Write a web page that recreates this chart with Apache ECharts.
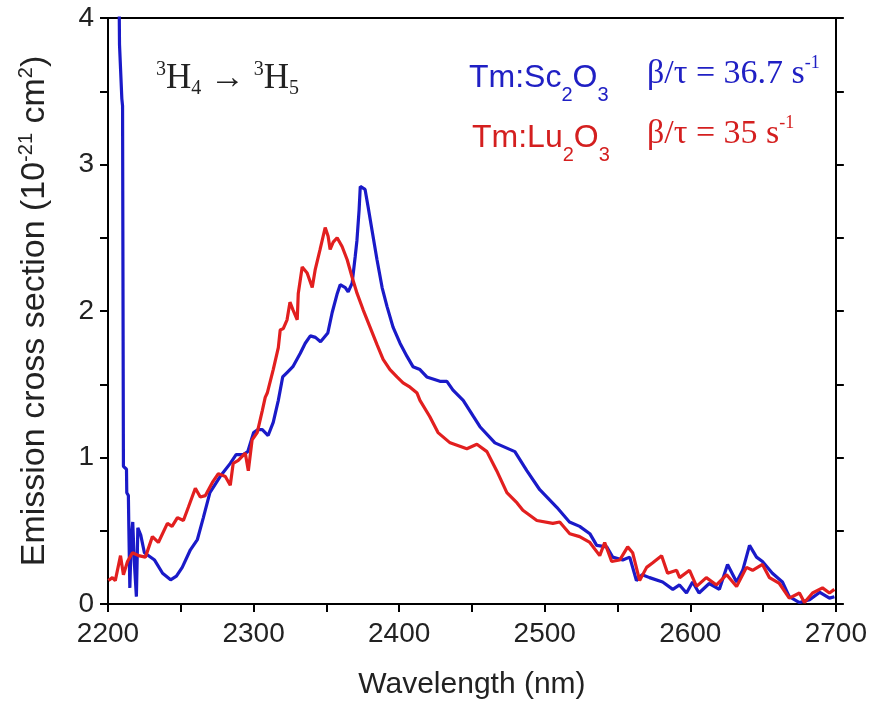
<!DOCTYPE html>
<html>
<head>
<meta charset="utf-8">
<script src="https://cdn.jsdelivr.net/npm/echarts@6/dist/echarts.min.js"></script>
<style>html,body{margin:0;padding:0;background:#fff;}#chart{width:870px;height:706px;}</style>
</head>
<body>
<div id="chart"></div>
<script>
// Tm:Sc2O3 (blue)
const sc2o3Wavelength = [2207.5,2207.9,2209.2,2209.5,2210.0,2210.6,2212.7,2212.9,2214.0,2214.3,2215.0,2216.0,2217.0,2218.0,2219.5,2220.5,2222.5,2225,2232,2237.5,2243,2247,2251,2256.6,2261.4,2265.5,2270,2277,2284,2288,2293,2296,2300,2303,2306,2310,2313.5,2317,2320,2323,2327,2332,2335.5,2339,2342.5,2346,2351,2354,2357.5,2359.5,2363,2365,2367.7,2369.8,2371,2372.5,2373.3,2374.6,2376.6,2378.7,2381.4,2384.8,2388.3,2391.7,2395.8,2400.6,2405.4,2409.5,2414.3,2419,2428,2432.8,2437,2444,2451,2455.5,2465.8,2479.5,2487.7,2496.6,2508.3,2517,2524,2531,2535.7,2542.6,2546.7,2553.6,2558.4,2563,2567,2572,2581,2588,2592.6,2597.4,2601.6,2606,2613,2620,2625.6,2631.8,2636,2640.7,2645.5,2649.6,2656.4,2663.3,2668,2675,2682,2689,2695.6,2699];
const sc2o3Sigma = [4.3,3.82,3.82,3.45,3.40,0.94,0.92,0.76,0.74,0.53,0.11,0.45,0.56,0.30,0.05,0.52,0.47,0.35,0.30,0.21,0.165,0.19,0.25,0.37,0.44,0.59,0.76,0.87,0.96,1.02,1.02,1.04,1.17,1.19,1.19,1.15,1.24,1.39,1.55,1.58,1.62,1.71,1.78,1.83,1.82,1.79,1.85,1.99,2.12,2.18,2.16,2.13,2.19,2.37,2.48,2.69,2.85,2.86,2.83,2.71,2.55,2.35,2.16,2.03,1.89,1.78,1.69,1.62,1.60,1.55,1.52,1.52,1.46,1.39,1.28,1.21,1.10,1.04,0.91,0.78,0.66,0.56,0.53,0.48,0.40,0.39,0.32,0.30,0.32,0.16,0.20,0.18,0.15,0.10,0.13,0.075,0.15,0.075,0.14,0.10,0.27,0.15,0.23,0.40,0.32,0.29,0.21,0.15,0.05,0.01,0.03,0.08,0.04,0.05];

// Tm:Lu2O3 (red)
const lu2o3Wavelength = [2200.3,2203,2205,2208.6,2210.6,2213.4,2216.8,2221,2225.7,2230.5,2234.6,2240.8,2244,2247.7,2251.8,2255.2,2260,2263.4,2266.9,2271.7,2275.8,2280.6,2284,2286,2289.5,2294.3,2296.4,2299,2302.5,2306,2308,2309.4,2313.5,2317,2318.3,2320.4,2323,2325,2327,2330,2330.7,2333.4,2336.8,2340.3,2342.3,2345.7,2349.2,2351.2,2352.6,2354.7,2357.4,2360.8,2364.3,2367.7,2371.1,2375.2,2380,2384.8,2389,2393.7,2398.5,2402.7,2407.5,2412.3,2414.3,2421,2426.7,2435,2446.5,2453.4,2460.3,2467,2474,2481,2485,2494.6,2505.6,2510.3,2517.2,2524,2531,2537.8,2541.2,2546,2551.5,2557,2560.4,2565.2,2570,2574,2580.3,2584.4,2590.6,2592.7,2599.5,2604.3,2611,2618,2625,2631.8,2638.6,2642.8,2649.6,2654.4,2661.2,2668,2675,2678.4,2684,2690.8,2695.6,2699];
const lu2o3Sigma = [0.16,0.18,0.16,0.33,0.20,0.29,0.35,0.33,0.32,0.46,0.42,0.55,0.53,0.59,0.57,0.66,0.79,0.73,0.74,0.83,0.89,0.87,0.81,0.96,0.98,1.03,0.91,1.12,1.17,1.32,1.41,1.44,1.60,1.75,1.87,1.88,1.94,2.06,2.01,1.94,2.12,2.30,2.26,2.16,2.28,2.42,2.57,2.51,2.42,2.47,2.50,2.44,2.35,2.23,2.12,2.01,1.89,1.77,1.67,1.60,1.55,1.51,1.48,1.44,1.39,1.28,1.17,1.10,1.06,1.09,1.04,0.91,0.76,0.69,0.64,0.57,0.55,0.56,0.48,0.46,0.42,0.33,0.42,0.29,0.30,0.39,0.35,0.16,0.25,0.28,0.33,0.21,0.23,0.18,0.23,0.12,0.18,0.13,0.20,0.12,0.25,0.23,0.27,0.18,0.14,0.04,0.075,0.01,0.075,0.11,0.075,0.10];

const xTicks = [2200, 2300, 2400, 2500, 2600, 2700];
const yTicks = [0, 1, 2, 3, 4];

const blue = '#1a1ac8';
const red = '#e21f1f';
const blueText = '#2020c4';
const redText = '#d41f1f';

function pairs(xs, ys) { return xs.map((x, i) => [x, ys[i]]); }

const chart = echarts.init(document.getElementById('chart'), null, {renderer: 'canvas'});
const sans = 'Liberation Sans, Arial, sans-serif';
const serif = 'Liberation Serif, Times New Roman, serif';

const option = {
  backgroundColor: '#fff',
  animation: false,
  grid: {left: 108, right: 33, top: 18, bottom: 102, containLabel: false},
  xAxis: [{
    type: 'value', min: 2200, max: 2700, interval: 50, position: 'bottom',
    name: 'Wavelength (nm)', nameLocation: 'middle', nameGap: 66,
    nameTextStyle: {fontFamily: sans, fontSize: 30, color: '#222'},
    axisLine: {show: true, lineStyle: {color: '#000', width: 2}},
    axisTick: {show: true, inside: false, length: 8, lineStyle: {color: '#000', width: 2}},
    axisLabel: {margin: 16, fontFamily: sans, fontSize: 28, color: '#222',
      formatter: v => xTicks.indexOf(v) >= 0 ? String(v) : ''},
    splitLine: {show: false}
  }, {
    type: 'value', min: 2200, max: 2700, position: 'top',
    axisLine: {show: true, onZero: false, lineStyle: {color: '#000', width: 2}},
    axisTick: {show: false}, axisLabel: {show: false}, splitLine: {show: false}
  }],
  yAxis: [{
    type: 'value', min: 0, max: 4, interval: 0.5, position: 'left',
    name: '{a|Emission cross section (10}{sup|-21}{a| cm}{sup|2}{a|)}',
    nameLocation: 'middle', nameGap: 54, nameRotate: 90,
    nameTextStyle: {fontFamily: sans, fontSize: 34, color: '#222',
      rich: {
        a: {fontFamily: sans, fontSize: 34, color: '#222'},
        sup: {fontFamily: sans, fontSize: 20, color: '#222', padding: [0, 0, 18, 0]}
      }},
    axisLine: {show: true, onZero: false, lineStyle: {color: '#000', width: 2}},
    axisTick: {show: true, inside: false, length: 8, lineStyle: {color: '#000', width: 2}},
    axisLabel: {margin: 14, fontFamily: sans, fontSize: 28, color: '#222',
      formatter: v => yTicks.indexOf(v) >= 0 ? String(v) : ''},
    splitLine: {show: false}
  }, {
    type: 'value', min: 0, max: 4, interval: 0.5, position: 'right',
    axisLine: {show: true, onZero: false, lineStyle: {color: '#000', width: 2}},
    axisTick: {show: true, inside: false, length: 8, lineStyle: {color: '#000', width: 2}},
    axisLabel: {show: false}, splitLine: {show: false}
  }],
  series: [{
    name: 'Tm:Sc2O3', type: 'line', data: pairs(sc2o3Wavelength, sc2o3Sigma),
    showSymbol: false, symbol: 'none', clip: true,
    lineStyle: {color: blue, width: 3.2}, z: 2
  }, {
    name: 'Tm:Lu2O3', type: 'line', data: pairs(lu2o3Wavelength, lu2o3Sigma),
    showSymbol: false, symbol: 'none', clip: true,
    lineStyle: {color: red, width: 3.2}, z: 3
  }],
  graphic: [{
    type: 'text', left: 156, top: 60,
    style: {
      text: '{sup|3}{m|H}{sub|4}{m| → }{sup|3}{m|H}{sub|5}',
      fill: '#222',
      rich: {
        m: {fontFamily: serif, fontSize: 35, fill: '#222'},
        sup: {fontFamily: serif, fontSize: 20, fill: '#222', padding: [0, 0, 18, 0]},
        sub: {fontFamily: serif, fontSize: 20, fill: '#222', padding: [20, 0, 0, 0]}
      }
    }
  }, {
    type: 'text', left: 469, top: 62,
    style: {
      text: '{m|Tm:Sc}{sub|2}{m|O}{sub|3}',
      fill: blueText,
      rich: {
        m: {fontFamily: sans, fontSize: 32, fill: blueText},
        sub: {fontFamily: sans, fontSize: 20, fill: blueText, padding: [34, 0, 0, 0]}
      }
    }
  }, {
    type: 'text', left: 647, top: 54,
    style: {
      text: '{m|β/τ = 36.7 s}{sup|-1}',
      fill: blueText,
      rich: {
        m: {fontFamily: serif, fontSize: 34, fill: blueText},
        sup: {fontFamily: serif, fontSize: 18, fill: blueText, padding: [0, 0, 22, 0]}
      }
    }
  }, {
    type: 'text', left: 472, top: 122,
    style: {
      text: '{m|Tm:Lu}{sub|2}{m|O}{sub|3}',
      fill: redText,
      rich: {
        m: {fontFamily: sans, fontSize: 32, fill: redText},
        sub: {fontFamily: sans, fontSize: 20, fill: redText, padding: [34, 0, 0, 0]}
      }
    }
  }, {
    type: 'text', left: 647, top: 114,
    style: {
      text: '{m|β/τ = 35 s}{sup|-1}',
      fill: redText,
      rich: {
        m: {fontFamily: serif, fontSize: 34, fill: redText},
        sup: {fontFamily: serif, fontSize: 18, fill: redText, padding: [0, 0, 22, 0]}
      }
    }
  }]
};
chart.setOption(option);
</script>
</body>
</html>
